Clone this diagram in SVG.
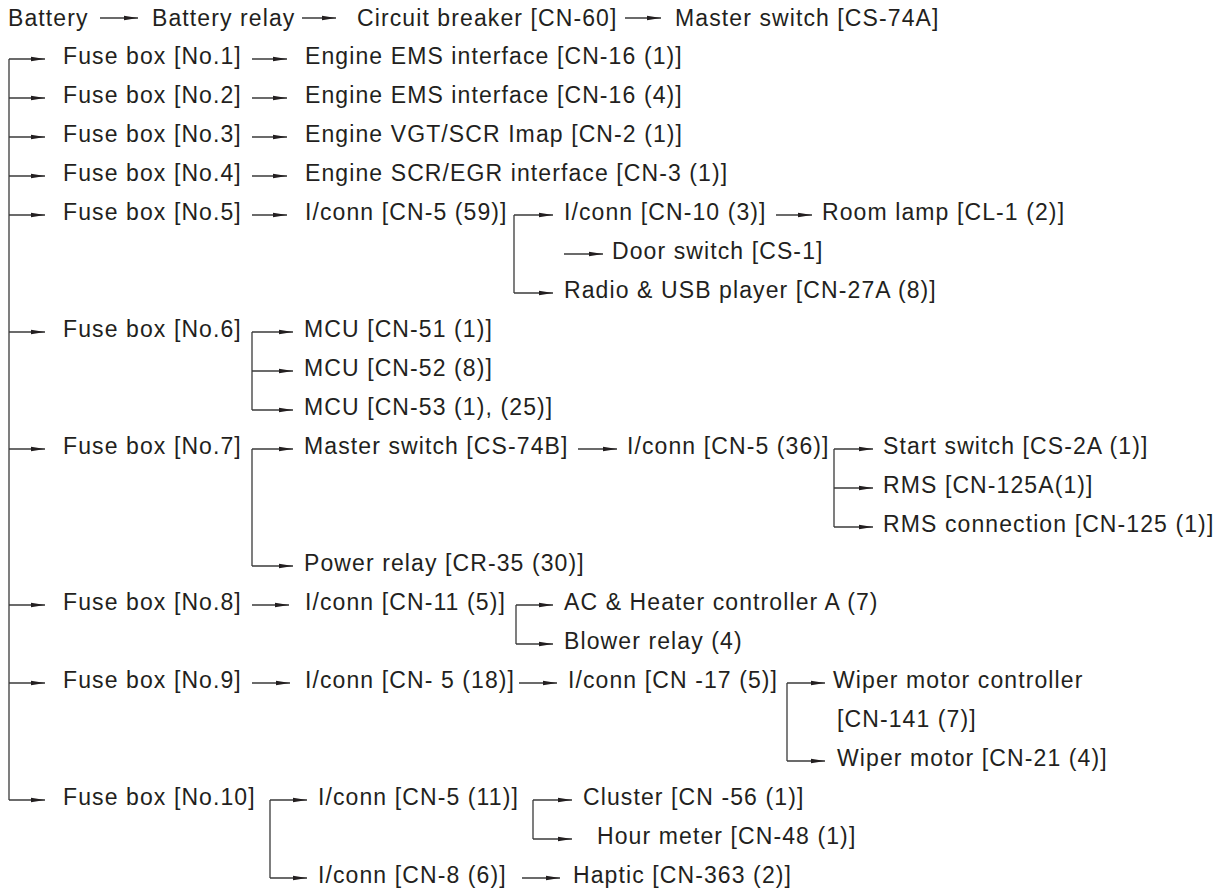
<svg xmlns="http://www.w3.org/2000/svg" width="1232" height="890" viewBox="0 0 1232 890">
<style>
text{font-family:"Liberation Sans",Arial,Helvetica,sans-serif;font-size:23px;letter-spacing:1.1px;fill:#231f20}
.c path{fill:none;stroke:#3a3a3a;stroke-width:1.3}
.c .a{marker-end:url(#ah)}
</style>
<defs>
<marker id="ah" markerWidth="15" markerHeight="6" refX="14" refY="3" orient="auto" markerUnits="userSpaceOnUse">
<path d="M0,0.7 L14,3 L0,5.3 z" fill="#231f20" stroke="none"/>
</marker>
</defs>
<rect width="1232" height="890" fill="#ffffff"/>
<g class="c" id="connectors">
<path class="a" d="M100,18 H138"/>
<path class="a" d="M302,18 H336"/>
<path class="a" d="M625,18 H661"/>
<path d="M9,59 V800"/>
<path class="a" d="M9,59 H45"/>
<path class="a" d="M9,98 H45"/>
<path class="a" d="M9,137 H45"/>
<path class="a" d="M9,176 H45"/>
<path class="a" d="M9,215 H45"/>
<path class="a" d="M9,332 H45"/>
<path class="a" d="M9,449 H45"/>
<path class="a" d="M9,605 H45"/>
<path class="a" d="M9,683 H45"/>
<path class="a" d="M9,800 H45"/>
<path class="a" d="M252,59 H287"/>
<path class="a" d="M252,98 H287"/>
<path class="a" d="M252,137 H287"/>
<path class="a" d="M252,176 H287"/>
<path class="a" d="M252,215 H287"/>
<path d="M514,215 V293"/>
<path class="a" d="M514,215 H553"/>
<path class="a" d="M514,293 H553"/>
<path class="a" d="M776,215 H812"/>
<path class="a" d="M564,254 H603"/>
<path d="M252,332 V410"/>
<path class="a" d="M252,332 H293"/>
<path class="a" d="M252,371 H293"/>
<path class="a" d="M252,410 H293"/>
<path d="M252,449 V566"/>
<path class="a" d="M252,449 H293"/>
<path class="a" d="M252,566 H293"/>
<path class="a" d="M578,449 H617"/>
<path d="M834,449 V527"/>
<path class="a" d="M834,449 H873"/>
<path class="a" d="M834,488 H873"/>
<path class="a" d="M834,527 H873"/>
<path class="a" d="M252,605 H289"/>
<path d="M516,605 V644"/>
<path class="a" d="M516,605 H553"/>
<path class="a" d="M516,644 H553"/>
<path class="a" d="M252,683 H290"/>
<path class="a" d="M519,683 H557"/>
<path d="M787,683 V761"/>
<path class="a" d="M787,683 H825"/>
<path class="a" d="M787,761 H825"/>
<path d="M270,800 V878"/>
<path class="a" d="M270,800 H307"/>
<path class="a" d="M270,878 H307"/>
<path d="M533,800 V839"/>
<path class="a" d="M533,800 H572"/>
<path class="a" d="M533,839 H572"/>
<path class="a" d="M522,878 H560"/>
</g>
<g id="battery"><text x="8" y="26">Battery</text></g>
<g id="battery-relay"><text x="152" y="26">Battery relay</text></g>
<g id="circuit-breaker"><text x="357" y="26">Circuit breaker [CN-60]</text></g>
<g id="master-switch-a"><text x="675" y="26">Master switch [CS-74A]</text></g>
<g id="fuse1"><text x="63" y="64">Fuse box [No.1]</text></g>
<g id="ems1"><text x="305" y="64">Engine EMS interface [CN-16 (1)]</text></g>
<g id="fuse2"><text x="63" y="103">Fuse box [No.2]</text></g>
<g id="ems4"><text x="305" y="103">Engine EMS interface [CN-16 (4)]</text></g>
<g id="fuse3"><text x="63" y="142">Fuse box [No.3]</text></g>
<g id="vgt"><text x="305" y="142">Engine VGT/SCR Imap [CN-2 (1)]</text></g>
<g id="fuse4"><text x="63" y="181">Fuse box [No.4]</text></g>
<g id="scr"><text x="305" y="181">Engine SCR/EGR interface [CN-3 (1)]</text></g>
<g id="fuse5"><text x="63" y="220">Fuse box [No.5]</text></g>
<g id="iconn-5-59"><text x="305" y="220">I/conn [CN-5 (59)]</text></g>
<g id="iconn-10-3"><text x="564" y="220">I/conn [CN-10 (3)]</text></g>
<g id="room-lamp"><text x="822" y="220">Room lamp [CL-1 (2)]</text></g>
<g id="door-switch"><text x="612" y="259">Door switch [CS-1]</text></g>
<g id="radio"><text x="564" y="298">Radio &amp; USB player [CN-27A (8)]</text></g>
<g id="fuse6"><text x="63" y="337">Fuse box [No.6]</text></g>
<g id="mcu51"><text x="304" y="337">MCU [CN-51 (1)]</text></g>
<g id="mcu52"><text x="304" y="376">MCU [CN-52 (8)]</text></g>
<g id="mcu53"><text x="304" y="415">MCU [CN-53 (1), (25)]</text></g>
<g id="fuse7"><text x="63" y="454">Fuse box [No.7]</text></g>
<g id="master-switch-b"><text x="304" y="454">Master switch [CS-74B]</text></g>
<g id="iconn-5-36"><text x="627" y="454">I/conn [CN-5 (36)]</text></g>
<g id="start-switch"><text x="883" y="454">Start switch [CS-2A (1)]</text></g>
<g id="rms"><text x="883" y="493">RMS [CN-125A(1)]</text></g>
<g id="rms-conn"><text x="883" y="532">RMS connection [CN-125 (1)]</text></g>
<g id="power-relay"><text x="304" y="571">Power relay [CR-35 (30)]</text></g>
<g id="fuse8"><text x="63" y="610">Fuse box [No.8]</text></g>
<g id="iconn-11-5"><text x="305" y="610">I/conn [CN-11 (5)]</text></g>
<g id="ac-heater"><text x="564" y="610">AC &amp; Heater controller A (7)</text></g>
<g id="blower"><text x="564" y="649">Blower relay (4)</text></g>
<g id="fuse9"><text x="63" y="688">Fuse box [No.9]</text></g>
<g id="iconn-5-18"><text x="305" y="688">I/conn [CN- 5 (18)]</text></g>
<g id="iconn-17-5"><text x="568" y="688">I/conn [CN -17 (5)]</text></g>
<g id="wiper-ctrl"><text x="833" y="688">Wiper motor controller</text><text x="837" y="727">[CN-141 (7)]</text></g>
<g id="wiper-motor"><text x="837" y="766">Wiper motor [CN-21 (4)]</text></g>
<g id="fuse10"><text x="63" y="805">Fuse box [No.10]</text></g>
<g id="iconn-5-11"><text x="318" y="805">I/conn [CN-5 (11)]</text></g>
<g id="cluster"><text x="583" y="805">Cluster [CN -56 (1)]</text></g>
<g id="hour-meter"><text x="597" y="844">Hour meter [CN-48 (1)]</text></g>
<g id="iconn-8-6"><text x="318" y="883">I/conn [CN-8 (6)]</text></g>
<g id="haptic"><text x="573" y="883">Haptic [CN-363 (2)]</text></g>
</svg>
